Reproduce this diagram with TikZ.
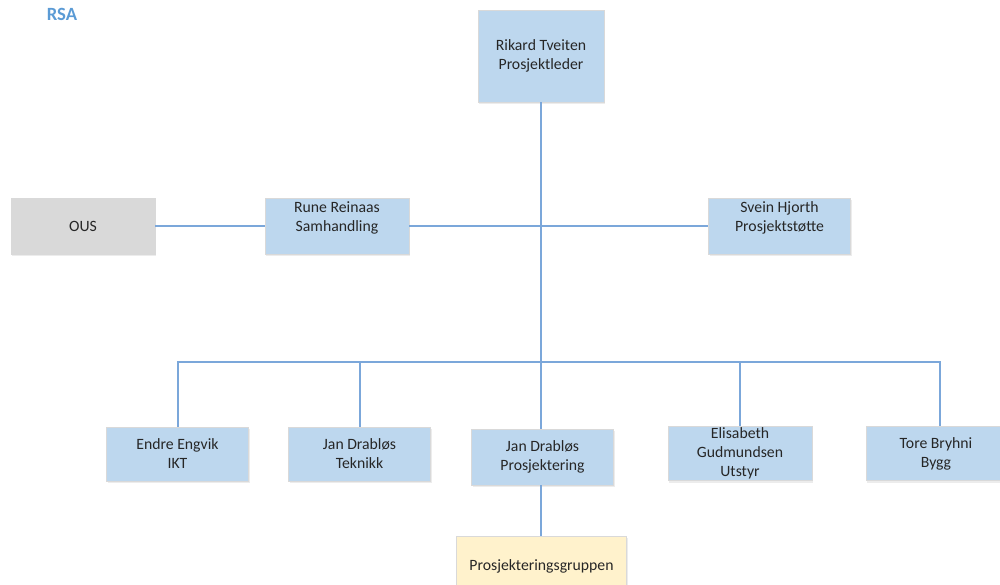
\documentclass[tikz,border=0pt]{standalone}
\usepackage{fontspec}
\setmainfont{Carlito}
\usetikzlibrary{shadows}
\definecolor{boxblue}{HTML}{BDD7EE}
\definecolor{boxgray}{HTML}{D9D9D9}
\definecolor{boxyellow}{HTML}{FFF2CC}
\definecolor{lineblue}{HTML}{7BA7DA}
\definecolor{rsablue}{HTML}{5B9BD5}
\definecolor{txt}{HTML}{262626}
\begin{document}
\begin{tikzpicture}[x=0.75pt,y=-0.75pt,
  box/.style={draw=black!15, line width=0.6pt, fill=boxblue, align=center, text=txt,
    font=\fontsize{11.8}{14.3}\selectfont, inner sep=0pt,
    drop shadow={shadow xshift=1pt, shadow yshift=-1.5pt, opacity=0.15}},
  conn/.style={draw=lineblue, line width=1.5pt}]
\useasboundingbox (0,0) rectangle (1000,585);
\node[text=rsablue, font=\fontsize{14}{16}\selectfont\bfseries] (rsa) at (62,14) {RSA};
\node[box, minimum width=94.5pt, minimum height=69pt] (top) at (541,56) {Rikard Tveiten\\Prosjektleder};
\node[box, fill=boxgray, minimum width=108pt, minimum height=42pt] (ous) at (83,226) {OUS};
\node[box, minimum width=108pt, minimum height=42pt] (rune) at (337,226) {Rune Reinaas\\Samhandling\\\mbox{}};
\node[box, minimum width=107pt, minimum height=42pt] (svein) at (779.5,226) {Svein Hjorth\\Prosjektstøtte\\\mbox{}};
\node[box, minimum width=107pt, minimum height=40.5pt] (endre) at (177.5,454) {Endre Engvik\\IKT};
\node[box, minimum width=107pt, minimum height=40.5pt] (tek) at (359.5,454) {Jan Drabløs\\Teknikk};
\node[box, minimum width=107pt, minimum height=42pt] (pro) at (542.5,457) {Jan Drabløs\\Prosjektering};
\node[box, minimum width=108pt, minimum height=41pt] (eli) at (740,453.5) {Elisabeth\\Gudmundsen\\Utstyr};
\node[box, minimum width=105pt, minimum height=41pt] (tore) at (936,453.5) {Tore Bryhni\\Bygg};
\node[box, fill=boxyellow, minimum width=128pt, minimum height=45pt] (grp) at (541.5,566) {Prosjekteringsgruppen};
\coordinate (hub) at (541,226);
\coordinate (bus) at (541,362);
\draw[conn] (top.south) -- (bus);
\draw[conn] (ous.east) -- (rune.west);
\draw[conn] (rune.east) -- (svein.west);
\draw[conn] (bus) -| (endre.north);
\draw[conn] (bus) -| (tek.north);
\draw[conn] (bus) -- (pro.north -| bus);
\draw[conn] (bus) -| (eli.north);
\draw[conn] (bus) -| (tore.north -| 940,0);
\draw[conn] (pro.south -| bus) -- (grp.north -| bus);
\end{tikzpicture}
\end{document}
